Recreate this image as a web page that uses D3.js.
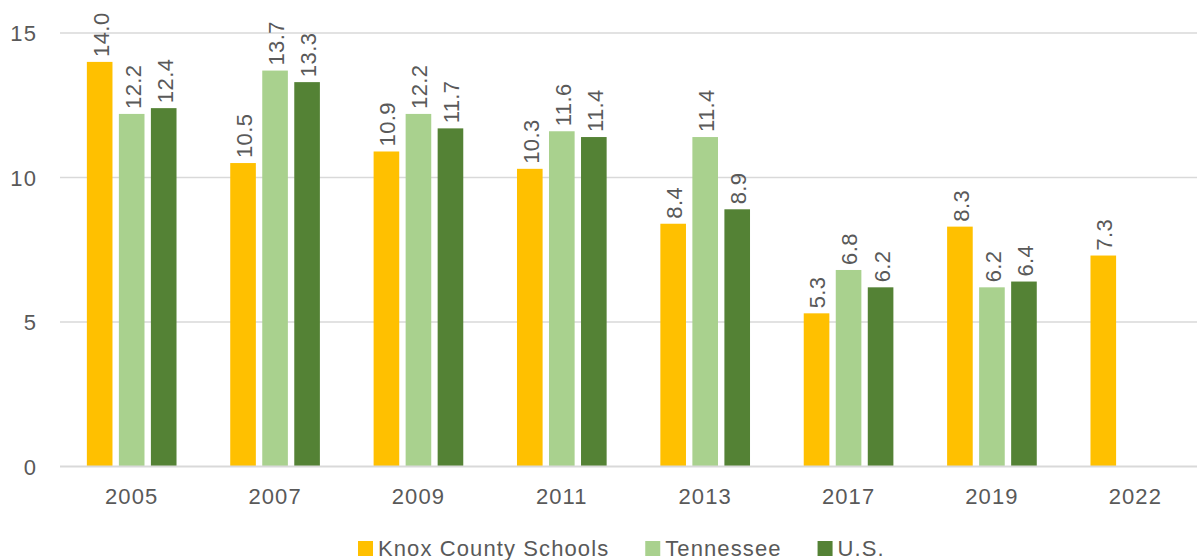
<!DOCTYPE html>
<html>
<head>
<meta charset="utf-8">
<script src="https://cdn.jsdelivr.net/npm/d3@7"></script>
<style>
  html, body { margin: 0; padding: 0; background: #ffffff; }
  svg { display: block; font-family: "Liberation Sans", Arial, sans-serif; }
</style>
</head>
<body>
<svg id="chart" width="1197" height="560"></svg>
<script>
const years = ["2005", "2007", "2009", "2011", "2013", "2017", "2019", "2022"];
const seriesNames = ["Knox County Schools", "Tennessee", "U.S."];
const knox = [14.0, 10.5, 10.9, 10.3, 8.4, 5.3, 8.3, 7.3];
const tennessee = [12.2, 13.7, 12.2, 11.6, 11.4, 6.8, 6.2, null];
const us = [12.4, 13.3, 11.7, 11.4, 8.9, 6.2, 6.4, null];
const yTicks = [0, 5, 10, 15];
const colors = ["#FFC000", "#A9D18E", "#548235"];

const seriesValues = [knox, tennessee, us];
const svg = d3.select("#chart");
const textColor = "#595959";
const fontSize = 22;
const spacing = "1.1px";

const x0 = d3.scaleBand().domain(years).range([60, 1207]).paddingInner(0.33).paddingOuter(0.165);
const x1 = d3.scaleBand().domain(seriesNames).range([0, x0.bandwidth()]).paddingInner(0.2).paddingOuter(0.1);
const y = d3.scaleLinear().domain([0, 15]).range([466.5, 33]);

// gridlines
svg.append("g").selectAll("line").data(yTicks.filter(t => t !== 0)).join("line")
  .attr("x1", 60).attr("x2", 1197)
  .attr("y1", d => y(d)).attr("y2", d => y(d))
  .attr("stroke", "#D9D9D9").attr("stroke-width", 1.5);

// y-axis labels
const yAxis = d3.axisLeft(y).tickValues(yTicks).tickSize(0).tickPadding(0).tickFormat(d3.format("d"));
const yg = svg.append("g").attr("transform", "translate(37,0)").call(yAxis);
yg.select(".domain").remove();
yg.selectAll("text").attr("fill", textColor).attr("font-size", fontSize)
  .style("letter-spacing", spacing).attr("font-family", "Liberation Sans, Arial, sans-serif")
  .attr("dy", "0.36em");

// bars
const groups = svg.append("g").selectAll("g").data(years).join("g")
  .attr("transform", d => `translate(${x0(d)},0)`);

const barData = (yr, i) => seriesNames.map((s, k) => ({ series: s, k, value: seriesValues[k][i] }))
  .filter(d => d.value !== null);

groups.selectAll("rect").data((yr, i) => barData(yr, i)).join("rect")
  .attr("x", d => x1(d.series))
  .attr("width", x1.bandwidth())
  .attr("y", d => y(d.value))
  .attr("height", d => y(0) - y(d.value))
  .attr("fill", d => colors[d.k]);

// data labels (rotated)
groups.selectAll("text.lbl").data((yr, i) => barData(yr, i)).join("text")
  .attr("class", "lbl")
  .attr("transform", d => `translate(${x1(d.series) + x1.bandwidth() / 2 + 1},${y(d.value) - 5}) rotate(-90)`)
  .attr("text-anchor", "start")
  .attr("dy", "0.36em")
  .attr("fill", textColor)
  .attr("font-size", fontSize)
  .style("letter-spacing", "0.4px")
  .text(d => d.value.toFixed(1));

// x axis line
svg.append("line")
  .attr("x1", 60).attr("x2", 1197)
  .attr("y1", y(0)).attr("y2", y(0))
  .attr("stroke", "#D9D9D9").attr("stroke-width", 2);

// x axis labels
const xAxis = d3.axisBottom(x0).tickSize(0).tickPadding(0);
const xg = svg.append("g").attr("transform", "translate(0,504)").call(xAxis);
xg.select(".domain").remove();
xg.selectAll("text").attr("fill", textColor).attr("font-size", fontSize)
  .style("letter-spacing", spacing).attr("font-family", "Liberation Sans, Arial, sans-serif")
  .attr("dy", 0);

// legend
const legend = svg.append("g");
let lx = 358;
seriesNames.forEach((name, k) => {
  legend.append("rect").attr("x", lx).attr("y", 541).attr("width", 15).attr("height", 15).attr("fill", colors[k]);
  const t = legend.append("text").attr("x", lx + 20).attr("y", 548.5).attr("dy", "0.36em")
    .attr("fill", textColor).attr("font-size", fontSize).style("letter-spacing", spacing).text(name);
  lx = lx + 20 + t.node().getComputedTextLength() + 36;
});
</script>
</body>
</html>
